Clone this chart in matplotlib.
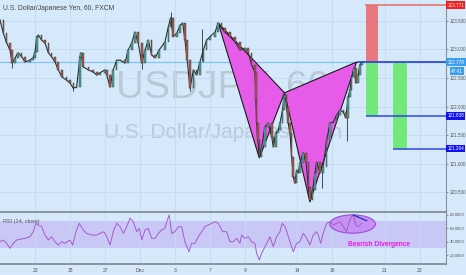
import matplotlib
matplotlib.use("Agg")
import matplotlib.pyplot as plt
from matplotlib.patches import Polygon, Rectangle, Ellipse

plt.rcParams['font.family'] = ['Liberation Sans', 'DejaVu Sans']

W, H = 466, 275

# x in trading days, 0 = Nov 23 (weekends squeezed out, 1 day ~ 17.5 px)
price_t = [-2.00, -1.81, -1.62, -1.43, -1.30, -1.14, -0.97, -0.76, -0.57, -0.29,
           -0.11, 0.00, 0.10, 0.19, 0.38, 0.57, 0.76, 0.95, 1.14, 1.33,
           1.53, 1.81, 2.00, 2.19, 2.38, 2.57, 2.63, 2.76, 3.05, 3.33,
           3.53, 3.71, 4.00, 4.10, 4.29, 4.47, 4.67, 4.86, 5.14, 5.33,
           5.53, 5.71, 5.90, 6.10, 6.29, 6.47, 6.67, 6.86, 7.10, 7.43,
           7.62, 7.75, 7.90, 8.10, 8.29, 8.44, 8.57, 8.70, 8.86, 9.05,
           9.24, 9.43, 9.62, 9.81, 10.00, 10.29, 10.47, 10.67, 10.86, 11.14,
           11.43, 11.71, 12.00, 12.19, 12.38, 12.57, 12.63, 12.67, 12.73, 12.82,
           12.95, 13.14, 13.33, 13.53, 13.62, 13.77, 13.90, 14.00, 14.15, 14.23,
           14.29, 14.38, 14.47, 14.57, 14.67, 14.76, 14.86, 14.95, 15.05, 15.14,
           15.33, 15.49, 15.62, 15.71, 15.87, 16.00, 16.10, 16.29, 16.47, 16.67,
           16.86, 17.05, 17.24, 17.43, 17.62, 17.77, 17.90, 18.00, 18.10, 18.23,
           18.34, 18.47, 18.57, 18.70]
price_c = [123.51, 123.28, 123.11, 122.99, 122.76, 122.85, 122.94, 122.87, 122.78, 122.81,
           122.85, 122.95, 123.22, 123.25, 123.16, 123.11, 122.94, 122.87, 122.78, 122.64,
           122.52, 122.46, 122.41, 122.32, 122.34, 122.87, 122.94, 122.69, 122.64, 122.60,
           122.55, 122.59, 122.64, 122.55, 122.34, 122.64, 122.81, 122.81, 122.76, 122.99,
           123.11, 123.30, 123.11, 122.76, 122.99, 123.16, 122.90, 122.85, 122.99, 123.13,
           123.39, 123.55, 123.22, 123.28, 123.42, 123.46, 123.16, 122.81, 122.32, 122.64,
           122.55, 122.78, 122.99, 123.16, 123.22, 123.30, 123.46, 123.37, 123.30, 123.22,
           123.13, 122.99, 123.02, 122.94, 122.73, 122.60, 122.11, 121.71, 121.41, 121.12,
           121.29, 121.64, 121.71, 121.47, 121.29, 121.54, 121.59, 121.71, 121.94, 122.15,
           122.20, 121.99, 121.71, 121.54, 121.12, 120.77, 120.66, 120.89, 120.84, 121.01,
           121.19, 121.03, 120.59, 120.37, 120.54, 120.84, 121.03, 120.84, 120.94, 121.41,
           121.71, 121.73, 121.85, 121.94, 121.90, 121.80, 122.17, 122.29, 122.51, 122.67,
           122.41, 122.55, 122.73, 122.78]

# long single wicks
wick_t = [-1.30, 2.19, 6.10, 7.75, 8.86, 9.53, 16.38, 17.83]
wick_lo = [122.68, 122.27, 122.66, 123.45, 122.27, 122.80, 120.58, 121.40]
wick_hi = [122.80, 122.40, 122.80, 123.66, 122.40, 123.36, 120.90, 121.85]

rsi_t = [-2.00, -1.81, -1.62, -1.43, -1.24, -1.05, -0.86, -0.57, -0.29, -0.10,
         0.06, 0.19, 0.38, 0.57, 0.76, 0.95, 1.14, 1.33, 1.53, 1.71,
         2.00, 2.15, 2.34, 2.53, 2.76, 2.95, 3.24, 3.53, 3.71, 3.94,
         4.10, 4.29, 4.47, 4.67, 4.86, 5.05, 5.24, 5.43, 5.62, 5.81,
         5.96, 6.10, 6.29, 6.47, 6.67, 6.86, 7.05, 7.24, 7.43, 7.56,
         7.67, 7.81, 8.00, 8.19, 8.38, 8.57, 8.80, 8.95, 9.14, 9.33,
         9.53, 9.71, 9.90, 10.10, 10.29, 10.47, 10.73, 10.95, 11.14, 11.33,
         11.53, 11.71, 11.81, 12.00, 12.19, 12.38, 12.57, 12.67, 12.82, 12.95,
         13.05, 13.24, 13.43, 13.62, 13.81, 14.00, 14.13, 14.29, 14.42, 14.57,
         14.76, 14.95, 15.14, 15.33, 15.53, 15.71, 15.90, 16.10, 16.19, 16.33,
         16.47, 16.67, 16.86, 17.05, 17.24, 17.43, 17.62, 17.81, 17.90, 18.04,
         18.19, 18.34, 18.47, 18.67]
rsi_v = [40.0, 42.5, 37.6, 30.2, 37.6, 42.5, 43.6, 45.0, 47.4, 54.8,
         67.3, 64.7, 62.2, 49.9, 42.5, 47.4, 40.0, 35.1, 40.0, 37.6,
         42.5, 35.1, 54.8, 67.3, 57.3, 52.4, 49.9, 49.9, 52.4, 54.8,
         47.4, 35.1, 54.8, 67.3, 62.2, 52.4, 62.2, 74.7, 69.6, 54.8,
         59.9, 42.5, 57.3, 59.9, 45.0, 45.0, 52.4, 57.3, 59.9, 72.1,
         79.6, 52.4, 54.8, 62.2, 62.2, 40.0, 25.2, 37.6, 37.6, 47.4,
         54.8, 62.2, 64.7, 67.3, 69.6, 67.3, 54.8, 54.8, 40.0, 40.0,
         45.0, 37.6, 49.9, 45.0, 47.4, 40.0, 37.6, 22.8, 12.9, 22.8,
         27.7, 37.6, 47.4, 32.6, 47.4, 54.8, 67.3, 62.2, 52.4, 40.0,
         25.2, 37.6, 40.0, 52.4, 45.0, 35.1, 49.9, 54.8, 49.9, 37.6,
         52.4, 67.3, 69.6, 64.7, 67.3, 69.6, 62.2, 54.8, 64.7, 74.7,
         79.6, 64.7, 62.2, 67.3]

tick_days = [0, 2, 4, 6, 8, 10, 12, 15, 17, 20, 22]
tick_labels = ['23', '25', '27', 'Dec', '3', '7', '9', '14', '16', '21', '23']
price_ticks = [120.5, 121.0, 121.5, 122.0, 122.5, 123.0, 123.5]
rsi_ticks = [20, 40, 60, 80]

# harmonic pattern X, A, B, C, D
pattern_t = [10.47, 12.82, 14.26, 15.71, 18.38]
pattern_p = [123.46, 121.10, 122.24, 120.33, 122.778]

entry = 122.778
stop = 123.771
target1 = 121.838
target2 = 121.264
pos1_t = [18.91, 19.62]
pos2_t = [20.44, 21.24]

# divergence marks on the RSI pane
div_t = [18.19, 18.95]
div_v = [79.6, 71.1]
ell_center = (18.15, 66.2)
ell_size = (2.61, 27.1)

BG = '#D6E9FB'
GRID = '#C2DBF3'
MAGENTA = '#E65CE9'
UP = '#4FA89A'
DOWN = '#B5594A'
DARK = '#263232'
AXCOL = '#8A939B'
TXT = '#555555'
XMAX = 23.49

fig = plt.figure(figsize=(W / 100, H / 100), dpi=100, facecolor=BG)
ax = fig.add_axes([0, 63 / H, 446 / W, 212 / H], facecolor=BG)
ax_rsi = fig.add_axes([0, 11 / H, 446 / W, 52 / H], facecolor=BG, sharex=ax)

ax.set_xlim(-2.0, XMAX)
ax.set_ylim(120.156, 123.862)
ax_rsi.set_ylim(7.0, 84.0)

# grid
ax.set_xticks(tick_days)
ax.set_yticks(price_ticks)
ax.grid(True, color=GRID, lw=0.6, zorder=0)
ax_rsi.grid(True, axis='x', color=GRID, lw=0.6, zorder=0)
ax.set_axisbelow(True)

# watermark
ax.text(0.5, 1 - 88 / 212, 'USDJPY, 60', transform=ax.transAxes,
        ha='center', va='center', fontsize=28, color='#A9B4C0', alpha=0.6, zorder=0.5)
ax.text(0.5, 1 - 133 / 212, 'U.S. Dollar/Japanese Yen', transform=ax.transAxes,
        ha='center', va='center', fontsize=15, color='#A9B4C0', alpha=0.6, zorder=0.5)

# current price line across the chart
ax.axhline(entry, color='#80C2F2', lw=0.9, zorder=1)

# pattern triangles
pts = list(zip(pattern_t, pattern_p))
X, A, B, C, D = pts
for tri in ([X, A, B], [B, C, D]):
    ax.add_patch(Polygon(tri, closed=True, fc=MAGENTA, ec='#1A1A1A', lw=0.8, zorder=2))

# position boxes
w1 = pos1_t[1] - pos1_t[0]
w2 = pos2_t[1] - pos2_t[0]
ax.add_patch(Rectangle((pos1_t[0], entry), w1, stop - entry, fc='#E8787F', ec='none', zorder=2))
ax.add_patch(Rectangle((pos1_t[0], target1), w1, entry - target1, fc='#72E87B', ec='none', zorder=2))
ax.add_patch(Rectangle((pos2_t[0], target2), w2, entry - target2, fc='#72E87B', ec='none', zorder=2))

ax.hlines(stop, pos1_t[0] - 0.05, XMAX, color='#E86A6A', lw=1.1, zorder=5)
ax.hlines(entry, pattern_t[4], XMAX, color='#2035E0', lw=1.1, zorder=5)
ax.hlines(target1, pos1_t[0], XMAX, color='#3046E8', lw=1.1, zorder=5)
ax.hlines(target2, pos2_t[0], XMAX, color='#3046E8', lw=1.1, zorder=5)

# candles
opens = [price_c[0]] + price_c[:-1]
bottoms = [min(o, c) for o, c in zip(opens, price_c)]
heights = [max(abs(c - o), 0.01) for o, c in zip(opens, price_c)]
colors = [UP if c >= o else DOWN for o, c in zip(opens, price_c)]
ax.plot(price_t, price_c, color=DARK, lw=0.8, zorder=3)
ax.vlines(wick_t, wick_lo, wick_hi, color=DARK, lw=0.6, zorder=3)
ax.bar(price_t, heights, bottom=bottoms, width=0.09, color=colors,
       edgecolor=DARK, linewidth=0.3, zorder=4)

# price axis on the right
ax.yaxis.tick_right()
ax.set_yticklabels([f'{p:.3f}' for p in price_ticks])
ax.tick_params(axis='y', labelsize=3.3, labelcolor=TXT, length=1.5, width=0.5,
               color='#666666', pad=1)
ax.tick_params(axis='x', labelbottom=False, length=0)
for s in ['top', 'left', 'bottom']:
    ax.spines[s].set_visible(False)
ax.spines['right'].set_color(AXCOL)
ax.spines['right'].set_linewidth(0.8)


def price_box(y, text, fc):
    ax.text(1.003, y, text, transform=ax.get_yaxis_transform(), ha='left', va='center',
            fontsize=3.3, color='white', clip_on=False, zorder=10,
            bbox=dict(boxstyle='square,pad=0.3', fc=fc, ec='none'))


price_box(stop, f'{stop:.3f}', '#F42020')
price_box(entry, f'{entry:.3f}', '#3C9EEC')
price_box(target1, f'{target1:.3f}', '#1212EE')
price_box(target2, f'{target2:.3f}', '#1212EE')
ax.text(1.012, 122.62, '47:41', transform=ax.get_yaxis_transform(), ha='left', va='center',
        fontsize=3.3, color='white', clip_on=False, zorder=10,
        bbox=dict(boxstyle='square,pad=0.3', fc='#3C9EEC', ec='none'))

# RSI pane
ax_rsi.axhspan(30, 70, color='#C9C7F6', zorder=0.5, lw=0)
ax_rsi.add_patch(Ellipse(ell_center, ell_size[0], ell_size[1], fc='#C690F4',
                         ec='#9A4DD8', lw=0.8, zorder=2))
ax_rsi.plot(rsi_t, rsi_v, color='#A65CC8', lw=0.7, zorder=3)
ax_rsi.plot(div_t, div_v, color='#2030C0', lw=0.9, zorder=4)
ax_rsi.text(19.64, 36.1, 'Bearish Divergence', ha='center', va='center',
            fontsize=4.8, fontweight='bold', color='#E81EE8', zorder=5)

ax_rsi.yaxis.tick_right()
ax_rsi.set_yticks(rsi_ticks)
ax_rsi.set_yticklabels([f'{v:.4f}' for v in rsi_ticks])
ax_rsi.tick_params(axis='y', labelsize=3.1, labelcolor=TXT, length=1.5, width=0.5,
                   color='#666666', pad=1)
ax_rsi.set_xticks(tick_days)
ax_rsi.set_xticklabels(tick_labels)
ax_rsi.tick_params(axis='x', labelsize=3.6, labelcolor=TXT, length=0, pad=3)
ax_rsi.spines['left'].set_visible(False)
for s in ['top', 'bottom']:
    ax_rsi.spines[s].set_color('#7E868E')
    ax_rsi.spines[s].set_linewidth(1.2)
ax_rsi.spines['right'].set_color(AXCOL)
ax_rsi.spines['right'].set_linewidth(0.8)

fig.text(3 / W, 1 - 9 / H, 'U.S. Dollar/Japanese Yen, 60, FXCM', ha='left', va='center',
         fontsize=4.9, color='#444444')
fig.text(3 / W, 1 - 221 / H, 'RSI (14, close)', ha='left', va='center',
         fontsize=4.0, color=TXT)

fig.savefig('out.png', dpi=100, facecolor=BG)
